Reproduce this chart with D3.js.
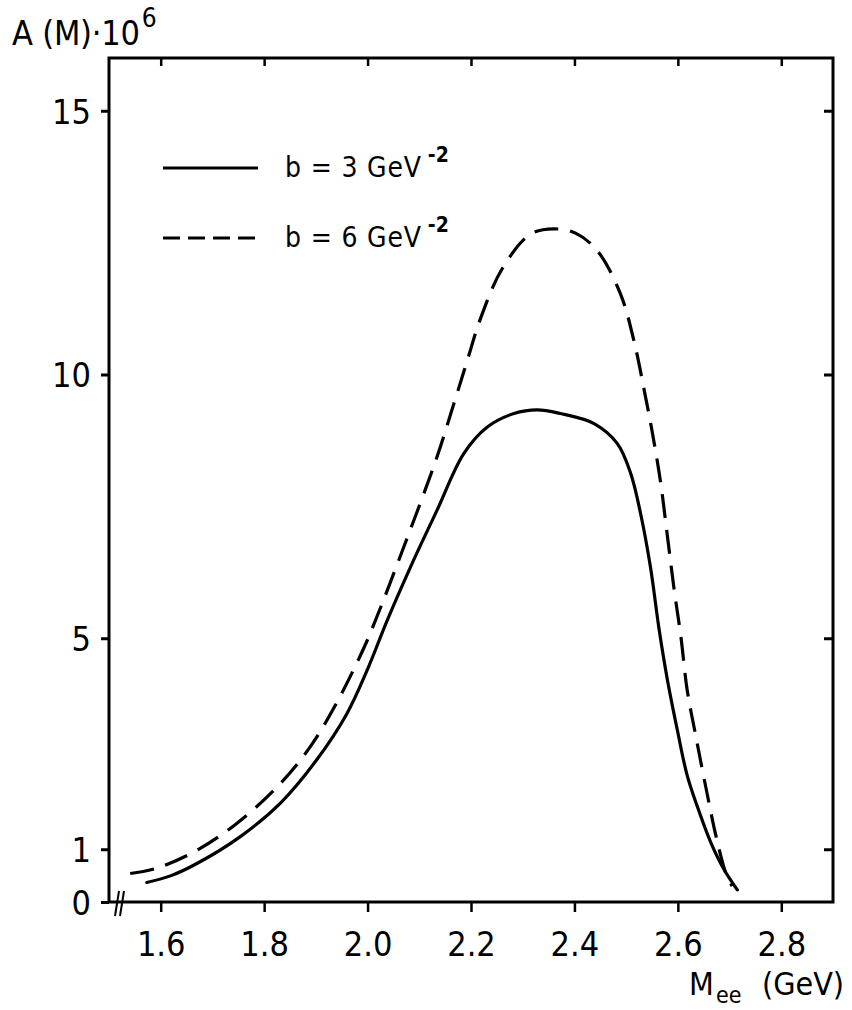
<!DOCTYPE html>
<html>
<head>
<meta charset="utf-8">
<script src="https://cdn.jsdelivr.net/npm/d3@7"></script>
<style>
  body { margin: 0; background: #fff; }
  svg { display: block; }
  text { font-family: "Liberation Sans Narrow", "DejaVu Sans Condensed", sans-serif; fill: #000; }
</style>
</head>
<body>
<svg id="chart"></svg>
<script>
// values
const massSolid = [1.573, 1.62, 1.67, 1.754, 1.831, 1.902, 1.96, 1.999, 2.038, 2.083, 2.134, 2.186, 2.231, 2.283, 2.328, 2.373, 2.438, 2.483, 2.509, 2.528, 2.547, 2.564, 2.58, 2.599, 2.618, 2.638, 2.664, 2.689, 2.715];
const ampSolid  = [0.37, 0.50, 0.73, 1.24, 1.87, 2.70, 3.57, 4.39, 5.34, 6.35, 7.42, 8.50, 9.00, 9.26, 9.33, 9.26, 9.07, 8.69, 8.12, 7.36, 6.35, 5.15, 4.20, 3.26, 2.40, 1.80, 1.12, 0.62, 0.23];

const massDash = [1.541, 1.592, 1.67, 1.747, 1.825, 1.889, 1.941, 1.983, 2.005, 2.07, 2.134, 2.167, 2.193, 2.218, 2.26, 2.315, 2.36, 2.402, 2.444, 2.489, 2.515, 2.535, 2.551, 2.567, 2.58, 2.593, 2.606, 2.618, 2.635, 2.654, 2.674, 2.693, 2.705];
const ampDash  = [0.54, 0.64, 0.98, 1.49, 2.18, 2.94, 3.79, 4.61, 5.09, 6.73, 8.43, 9.45, 10.27, 11.05, 12.0, 12.66, 12.76, 12.68, 12.35, 11.53, 10.64, 9.70, 8.88, 7.93, 6.92, 5.91, 5.02, 4.02, 3.13, 2.18, 1.24, 0.54, 0.30];

const xTicks = [1.6, 1.8, 2.0, 2.2, 2.4, 2.6, 2.8];
const xTickLabels = ["1.6", "1.8", "2.0", "2.2", "2.4", "2.6", "2.8"];
const yTicks = [0, 1, 5, 10, 15];
const yTickLabels = ["0", "1", "5", "10", "15"];
const legendLabels = ["b = 3 GeV", "b = 6 GeV"];

const W = 852, H = 1010;
const margin = {top: 58, right: 19, bottom: 108, left: 109};
const width = W - margin.left - margin.right;
const height = H - margin.top - margin.bottom;

const svg = d3.select("#chart").attr("width", W).attr("height", H);
const g = svg.append("g").attr("transform", `translate(${margin.left},${margin.top})`);

const x = d3.scaleLinear().domain([1.5, 2.9]).range([0, width]);
const y = d3.scaleLinear().domain([0, 16]).range([height, 0]);

// bottom axis, ticks outward
g.append("g")
    .attr("transform", `translate(0,${height})`)
    .call(d3.axisBottom(x).tickValues(xTicks).tickSize(10).tickFormat((d, i) => xTickLabels[i]))
    .call(a => a.select(".domain").remove())
    .call(a => a.selectAll("line").attr("stroke-width", 2.5))
    .call(a => a.selectAll("text").attr("font-size", 34).attr("dy", null).attr("y", 54));

// left axis, ticks outward
g.append("g")
    .call(d3.axisLeft(y).tickValues(yTicks).tickSize(8).tickFormat((d, i) => yTickLabels[i]))
    .call(a => a.select(".domain").remove())
    .call(a => a.selectAll("line").attr("stroke-width", 3))
    .call(a => a.selectAll("text").attr("font-size", 34).attr("x", -18).attr("dy", "0.36em"));

// top axis, ticks inward
g.append("g")
    .call(d3.axisTop(x).tickValues(xTicks).tickSize(-8).tickFormat(""))
    .call(a => a.select(".domain").remove())
    .call(a => a.selectAll("line").attr("stroke-width", 2.5));

// right axis, ticks inward
g.append("g")
    .attr("transform", `translate(${width},0)`)
    .call(d3.axisRight(y).tickValues(yTicks.filter(d => d > 0)).tickSize(-9).tickFormat(""))
    .call(a => a.select(".domain").remove())
    .call(a => a.selectAll("line").attr("stroke-width", 3));

// frame
g.append("rect")
    .attr("x", 0).attr("y", 0)
    .attr("width", width).attr("height", height)
    .attr("fill", "none")
    .attr("stroke", "#000")
    .attr("stroke-width", 3);

// axis break mark near the origin
[0, 5].forEach(off => {
    g.append("line")
        .attr("x1", 6 + off).attr("y1", height + 14)
        .attr("x2", 10 + off).attr("y2", height - 11)
        .attr("stroke", "#000").attr("stroke-width", 2);
});

const line = d3.line()
    .x(d => x(d[0]))
    .y(d => y(d[1]))
    .curve(d3.curveCatmullRom.alpha(0.5));

g.append("path")
    .datum(massSolid.map((m, i) => [m, ampSolid[i]]))
    .attr("d", line)
    .attr("fill", "none")
    .attr("stroke", "#000")
    .attr("stroke-width", 3.2)
    .attr("stroke-linecap", "round");

g.append("path")
    .datum(massDash.map((m, i) => [m, ampDash[i]]))
    .attr("d", line)
    .attr("fill", "none")
    .attr("stroke", "#000")
    .attr("stroke-width", 3.2)
    .attr("stroke-dasharray", "24,12");

// legend
const legendY = [168, 238];
legendLabels.forEach((lab, i) => {
    svg.append("line")
        .attr("x1", 163).attr("x2", 258)
        .attr("y1", legendY[i]).attr("y2", legendY[i])
        .attr("stroke", "#000").attr("stroke-width", 3)
        .attr("stroke-dasharray", i === 1 ? "17,8" : null);
    const t = svg.append("text")
        .attr("x", 285).attr("y", legendY[i] + 9)
        .attr("font-size", 28);
    t.append("tspan").text(lab).attr("textLength", 136).attr("lengthAdjust", "spacing");
    t.append("tspan").text("-2").attr("dx", 6).attr("dy", -15).attr("font-size", 21).attr("font-weight", "bold");
});

// y axis title
const yt = svg.append("text").attr("x", 12).attr("y", 45).attr("font-size", 34);
yt.append("tspan").text("A (M)·10").attr("textLength", 128).attr("lengthAdjust", "spacing");
yt.append("tspan").text("6").attr("dx", 2).attr("dy", -18).attr("font-size", 26);

// x axis title
const xt = svg.append("text").attr("y", 995).attr("font-size", 32);
xt.append("tspan").attr("x", 689).text("M");
xt.append("tspan").attr("x", 716).attr("dy", 8).attr("font-size", 23).text("ee");
xt.append("tspan").attr("x", 762).attr("dy", -8).text("(GeV)").attr("textLength", 82).attr("lengthAdjust", "spacing");
</script>
</body>
</html>
